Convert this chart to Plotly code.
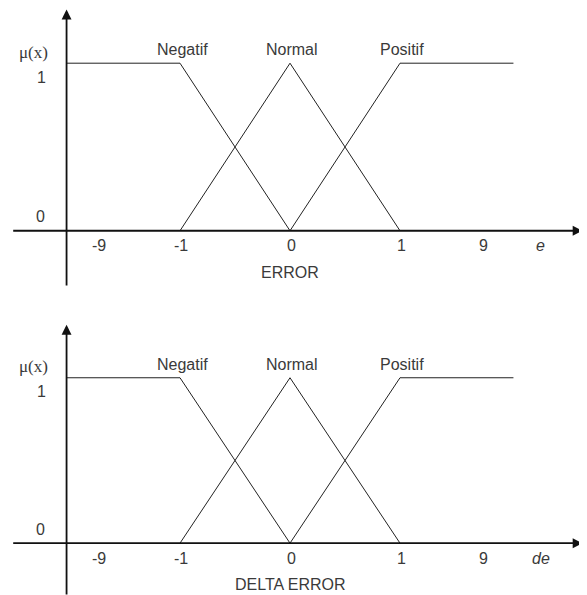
from plotly.subplots import make_subplots
import plotly.graph_objects as go

# universe of discourse and tick labels
universe_ticks = [-9, -1, 0, 1, 9]
tick_labels = ["-9", "-1", "0", "1", "9"]

# membership functions (x in real units, mu in [0, 1])
negatif_x = [-12, -1, 0]
negatif_mu = [1, 1, 0]
normal_x = [-1, 0, 1]
normal_mu = [0, 1, 0]
positif_x = [0, 1, 12]
positif_mu = [0, 1, 1]

set_names = ["Negatif", "Normal", "Positif"]
set_label_x = [-1, 0, 1]

panels = [("ERROR", "e"), ("DELTA ERROR", "de")]

line_color = '#222222'
axis_color = '#111111'
text_color = '#3a3a3a'
sans = "Liberation Sans, Arial, sans-serif"
serif = "Liberation Serif, Times New Roman, serif"


def scale(v):
    # the picture compresses the outer part of the axis
    if abs(v) <= 1:
        return v
    sign = 1 if v > 0 else -1
    return sign * (1 + (abs(v) - 1) * 0.75 / 8)


# page body has an 8px margin, so the figure is 8px smaller than the window
W, H = 579, 587
figure = make_subplots(rows=2, cols=1, vertical_spacing=5 / H)

for row, (title, var) in enumerate(panels, start=1):
    xr = 'x' if row == 1 else 'x2'
    yr = 'y' if row == 1 else 'y2'
    font = {'family': sans, 'size': 16, 'color': text_color}
    for xs, mus in [(negatif_x, negatif_mu), (normal_x, normal_mu), (positif_x, positif_mu)]:
        figure.add_trace(go.Scatter(x=[scale(v) for v in xs], y=mus, mode='lines',
                                    line={'color': line_color, 'width': 1},
                                    showlegend=False, hoverinfo='skip'),
                         row=row, col=1)

    # axes with arrows
    y_bottom = -0.335 if row == 1 else -0.32
    figure.add_annotation(x=2.66, y=0, ax=-2.53, ay=0, xref=xr, yref=yr, axref=xr, ayref=yr,
                          text='', showarrow=True, arrowhead=2, arrowsize=1.1, arrowwidth=1.8,
                          arrowcolor=axis_color, standoff=0)
    figure.add_annotation(x=scale(-12), y=1.32, ax=scale(-12), ay=y_bottom, xref=xr, yref=yr,
                          axref=xr, ayref=yr, text='', showarrow=True, arrowhead=2, arrowsize=1.1,
                          arrowwidth=1.8, arrowcolor=axis_color, standoff=0)

    # tick labels
    for v, lab in zip(universe_ticks, tick_labels):
        figure.add_annotation(x=scale(v) + 0.01, y=-0.09, xref=xr, yref=yr, text=lab,
                              showarrow=False, font=font)
    figure.add_annotation(x=2.28, y=-0.09, xref=xr, yref=yr, text='<i>' + var + '</i>',
                          showarrow=False, font=font)
    figure.add_annotation(x=0, y=-0.25, xref=xr, yref=yr, text=title, showarrow=False, font=font)

    # y labels
    figure.add_annotation(x=-2.27, y=0.084, xref=xr, yref=yr, text='0', showarrow=False, font=font)
    figure.add_annotation(x=-2.26, y=0.916, xref=xr, yref=yr, text='1', showarrow=False, font=font)
    figure.add_annotation(x=-2.33, y=1.066, xref=xr, yref=yr, text='\u03bc(x)', showarrow=False,
                          font={'family': serif, 'size': 17, 'color': text_color})

    # fuzzy set names
    for name, v in zip(set_names, set_label_x):
        figure.add_annotation(x=scale(v) + 0.02, y=1.08, xref=xr, yref=yr, text=name,
                              showarrow=False, font=font)

figure.update_xaxes(range=[-282 / 110, 297 / 110], visible=False)
figure.update_yaxes(range=[-68 / 167, 222 / 167], visible=False, row=1, col=1)
figure.update_yaxes(range=[-52 / 166, 240 / 166], visible=False, row=2, col=1)
figure.update_layout(width=W, height=H, margin={'l': 0, 'r': 0, 't': 0, 'b': 0},
                     plot_bgcolor='white', paper_bgcolor='white')

figure.write_html("out.html")
